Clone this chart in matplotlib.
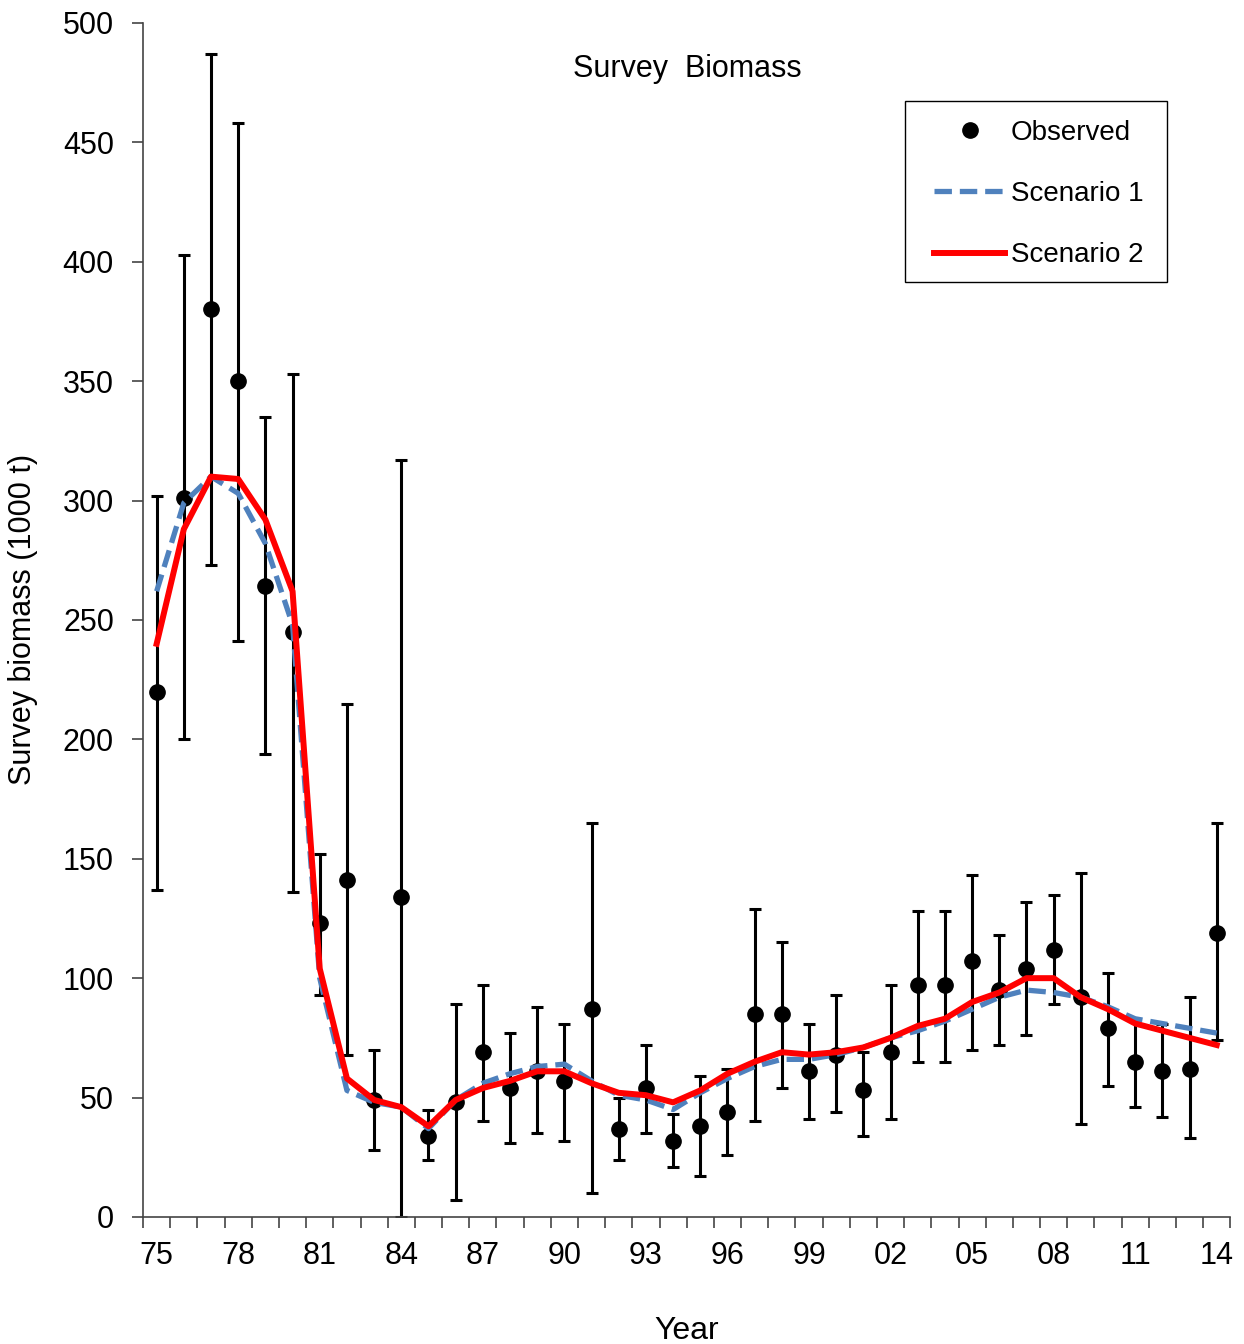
import matplotlib
matplotlib.use("Agg")
import matplotlib.pyplot as plt
from matplotlib.ticker import FixedLocator, MultipleLocator
from matplotlib.lines import Line2D
from matplotlib.patches import Rectangle

plt.rcParams['font.family'] = ['Liberation Sans', 'DejaVu Sans']

years = list(range(1975, 2015))
observed = [220, 301, 380, 350, 264, 245, 123, 141, 49, 134,
            34, 48, 69, 54, 61, 57, 87, 37, 54, 32,
            38, 44, 85, 85, 61, 68, 53, 69, 97, 97,
            107, 95, 104, 112, 92, 79, 65, 61, 62, 119]
err_low = [137, 200, 273, 241, 194, 136, 93, 68, 28, 0,
           24, 7, 40, 31, 35, 32, 10, 24, 35, 21,
           17, 26, 40, 54, 41, 44, 34, 41, 65, 65,
           70, 72, 76, 89, 39, 55, 46, 42, 33, 74]
err_high = [302, 403, 487, 458, 335, 353, 152, 215, 70, 317,
            45, 89, 97, 77, 88, 81, 165, 50, 72, 43,
            59, 62, 129, 115, 81, 93, 69, 97, 128, 128,
            143, 118, 132, 135, 144, 102, 83, 81, 92, 165]
scenario1 = [262, 299, 310, 303, 282, 248, 100, 53, 48, 46,
             37, 49, 56, 60, 63, 64, 57, 51, 49, 45,
             52, 58, 63, 66, 66, 68, 71, 75, 78, 82,
             87, 92, 95, 94, 92, 88, 83, 81, 79, 77]
scenario2 = [240, 288, 310, 309, 292, 262, 104, 58, 49, 46,
             38, 49, 54, 57, 61, 61, 56, 52, 51, 48,
             53, 60, 65, 69, 68, 69, 71, 75, 80, 83,
             90, 94, 100, 100, 92, 87, 81, 78, 75, 72]
tick_years = list(range(1975, 2015, 3))
tick_labels = [f"{y % 100:02d}" for y in tick_years]

BLUE = '#4F81BD'
RED = '#FF0000'
DASH = (0, (3.3, 1.5))

fig = plt.figure(figsize=(12.44, 13.44), dpi=100)
ax = fig.add_axes([0.115, 0.0945, 0.874, 0.8885])

yerr = [[o - l for o, l in zip(observed, err_low)],
        [h - o for o, h in zip(observed, err_high)]]
ax.errorbar(years, observed, yerr=yerr, fmt='o', color='black', ms=11,
            elinewidth=2.2, capsize=4.6, capthick=2.2, zorder=2)
ax.plot(years, scenario1, color=BLUE, lw=3.8, ls=DASH, zorder=3)
ax.plot(years, scenario2, color=RED, lw=4.3, zorder=4)

ax.set_xlim(1974.5, 2014.5)
ax.set_ylim(0, 500)
ax.yaxis.set_major_locator(MultipleLocator(50))
ax.xaxis.set_major_locator(FixedLocator(tick_years))
ax.set_xticklabels(tick_labels)
ax.xaxis.set_minor_locator(FixedLocator([y + 0.5 for y in range(1974, 2015)]))
ax.tick_params(axis='x', which='major', length=0, labelsize=22, pad=17)
ax.tick_params(axis='x', which='minor', length=8, width=1.2, color='#444444', direction='out')
ax.tick_params(axis='y', which='major', length=8, width=1.2, color='#444444',
               labelsize=22, direction='out', pad=13)
for s in ['top', 'right']:
    ax.spines[s].set_visible(False)
for s in ['left', 'bottom']:
    ax.spines[s].set_color('#444444')
    ax.spines[s].set_linewidth(1.2)

ax.set_xlabel('Year', fontsize=23)
ax.xaxis.set_label_coords(0.5, -0.083)
ax.set_ylabel('Survey biomass (1000 t)', fontsize=22)
ax.yaxis.set_label_coords(-0.097, 0.5)
ax.text(0.5005, 0.9615, 'Survey  Biomass', transform=ax.transAxes, ha='center',
        va='center', fontsize=22)

# legend frame
ax.add_patch(Rectangle((0.701, 0.783), 0.241, 0.1517, transform=ax.transAxes,
                       fill=True, facecolor='white', edgecolor='black', lw=1.0,
                       zorder=5, clip_on=False))
handles = [Line2D([], [], marker='o', ls='none', color='black', ms=11),
           Line2D([], [], color=BLUE, lw=3.8, ls=DASH),
           Line2D([], [], color=RED, lw=4.3)]
leg = ax.legend(handles, ['Observed', 'Scenario 1', 'Scenario 2'],
                loc='center left', bbox_to_anchor=(0.7277, 0.8567), fontsize=20,
                frameon=False, handlelength=2.55, labelspacing=1.27, borderpad=0,
                handletextpad=0.2, borderaxespad=0)
leg.set_zorder(6)

fig.savefig('out.png', dpi=100)
